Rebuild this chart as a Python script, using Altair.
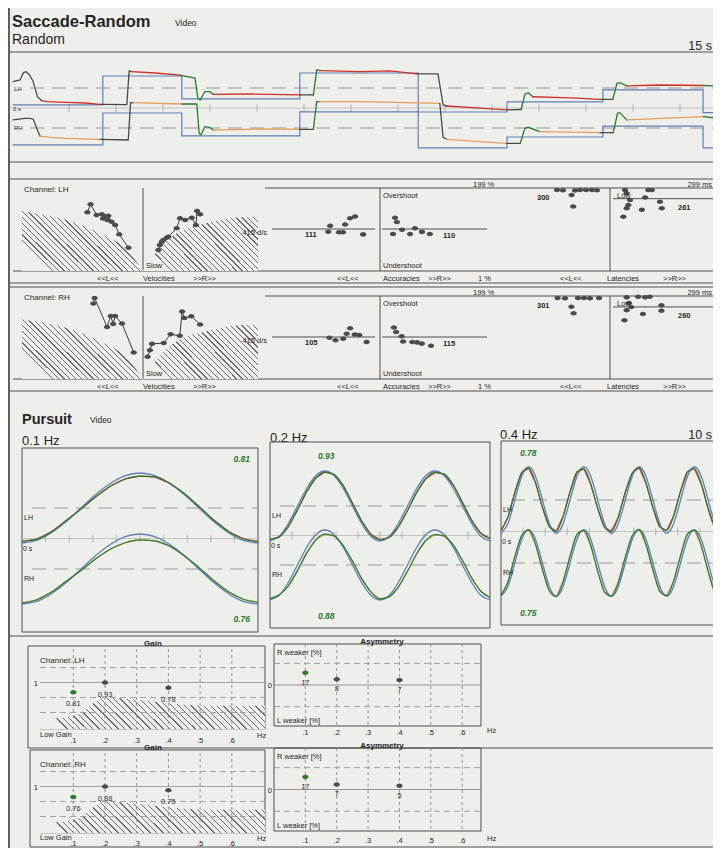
import math
import altair as alt
import pandas as pd

# ====================== DATA ======================
# --- Saccade-Random recording: time [s], horizontal position [deg]
sac_target_t = [-0.2, 1.72, 3.40, 5.91, 8.43, 10.32, 12.36, 14.49, 15.2]
sac_target_lh = [-14, 10, -9, 12.5, -20, -11.5, -1.5, -20.5, -20.5]
sac_target_rh = [-14, 12.5, -6.5, 13.5, -16.5, -7.5, 1.5, -16.5, -16.5]

sac_lh_t = [-0.19, -0.04, 0.03, 0.09, 0.16, 0.23, 0.33, 0.42, 0.53, 0.95, 1.34, 1.66, 2.23, 2.28,
            2.33, 2.83, 3.36, 3.68, 3.74, 3.79, 3.89, 4.0, 4.07, 4.85, 5.91, 6.2, 6.27, 6.34, 7.19,
            7.83, 8.4, 8.85, 8.96, 9.04, 9.74, 10.32, 10.62, 10.7, 10.77, 10.87, 11.66, 12.3, 12.57,
            12.66, 12.72, 12.87, 13.57, 14.49, 14.77, 14.83, 14.96]
sac_lh_deg = [5.3, 6.7, 12.8, 13.6, 10.8, 6.1, -7.3, -10.6, -11.4, -11.9, -12.5, -13.6, -13.8, 14.2,
              13.6, 12.5, 10.8, 8.3, -8.3, -10, -3.1, -3.1, -5.3, -5, -5.8, -5.8, 15, 14.4, 13.6,
              14.2, 11.7, 11.7, -14.2, -15, -16.7, -18.3, -17.9, -5, -3.9, -7.3, -8.3, -9.4, -9.4,
              3.9, 4.4, 1.7, 2.5, 2.1, 1.7, -10, -12]
# k = untracked, r = fixation, g = saccade
sac_lh_kind = list("kkkkkkk" "rrrr" "kkk" "rr" "gggggg" "rr" "k" "gg" "rrr" "kkk" "rr" "k" "ggg"
                   "rr" "k" "ggg" "rr" "gggg")

sac_rh_t = [-0.19, 0.06, 0.17, 0.24, 0.38, 0.6, 0.95, 1.66, 2.26, 2.31, 2.37, 3.4, 3.72, 3.77, 3.81,
            3.89, 3.99, 4.07, 5.06, 5.91, 6.2, 6.27, 6.34, 7.19, 8.89, 8.96, 9.04, 10.31, 10.6, 10.7,
            10.77, 11.02, 12.3, 12.58, 12.67, 12.72, 12.87, 14.5, 14.81, 14.85]
sac_rh_deg = [6.7, 8.1, 8.1, 7.3, -6.7, -7.8, -8.6, -9.4, -10, 21.1, 21.1, 20, 20, -4.4, -5.8, 1.1,
              0.6, -1.7, -0.8, -1.1, -1.1, 21.9, 21.9, 21.9, 20.6, -7.8, -9.4, -12.8, -12.8, -0.3,
              0.6, -3.1, -3.9, -3.9, 12.2, 12.8, 6.7, 9.4, 8.1, -7.3]
# k = untracked, o = fixation, g = saccade
sac_rh_kind = list("kkkk" "ooo" "kkk" "o" "gggggg" "oo" "k" "gg" "oo" "kk" "o" "k" "ggg" "o" "k"
                   "ggg" "o" "ggg")
sac_ticks_s = [1, 2, 3, 4, 5, 6, 7, 8, 9, 10, 11, 12, 13, 14]

# --- Saccade analysis: amplitude [deg]; peak velocity [deg/s]; accuracy [%]; latency [ms]
vel_norm_l_amp = [0, 4.0, 10.7, 18.9, 29.3, 30]
vel_norm_l_v = [0, 152, 273, 369, 429, 432]
vel_norm_r_amp = [0, 3.6, 8.8, 16.6, 23.6, 30]
vel_norm_r_v = [0, 140, 273, 345, 385, 393]

lh_vel_l_amp = [13.8, 13.0, 11.5, 10.2, 9.9, 9.4, 9.1, 8.85, 8.6, 7.8, 6.9, 5.9, 3.6]
lh_vel_l_v = [424, 482, 405, 410, 380, 393, 385, 369, 400, 356, 333, 265, 168]
lh_vel_r_amp = [4.0, 4.4, 4.9, 5.3, 6.2, 6.6, 8.8, 9.65, 11.0, 12.7, 13.8, 14.1, 14.9]
lh_vel_r_v = [152, 188, 212, 224, 241, 248, 309, 381, 369, 385, 333, 434, 410]
rh_vel_l_amp = [12.3, 12.0, 8.9, 8.0, 7.4, 6.9, 5.2, 2.3]
rh_vel_l_v = [546, 586, 376, 456, 398, 456, 401, 192]
rh_vel_r_amp = [1.2, 1.8, 2.35, 5.4, 7.2, 9.6, 10.2, 10.8, 12.6, 14.9]
rh_vel_r_v = [161, 208, 254, 260, 324, 312, 488, 441, 453, 394]

lh_acc_l_amp = [13.5, 13.0, 10.7, 9.65, 9.1, 7.8, 6.5, 4.4]
lh_acc_l = [93.5, 108, 92, 92, 111, 126, 130, 87]
lh_acc_r_amp = [3.55, 4.1, 4.6, 6.0, 8.2, 9.55, 11.45, 13.6]
lh_acc_r = [88, 127, 117, 98, 88, 102, 93, 88]
rh_acc_l_amp = [13.2, 11.6, 9.6, 8.7, 7.8, 6.6, 5.4, 3.5]
rh_acc_l = [98, 92, 96, 108, 121, 106, 105, 88]
rh_acc_r_amp = [3.8, 4.4, 5.9, 6.3, 8.8, 10.1, 11.4, 13.9]
rh_acc_r = [123, 112, 102, 89, 88, 87, 84, 79]

lh_lat_l_amp = [13.25, 11.75, 8.75, 7.5, 6.0, 4.5, 3.25, 9.6, 9.2]
lh_lat_l = [293, 292, 291, 293, 293, 293, 292, 274, 232]
lh_lat_r_amp = [4.05, 4.5, 5.4, 4.5, 4.95, 3.6, 8.6, 9.5, 10.35, 11.3, 13.5, 14.0]
lh_lat_r = [293, 281, 256, 226, 238, 195, 220, 265, 293, 293, 250, 226]
rh_lat_l_amp = [13.1, 11.25, 8.0, 6.5, 5.0, 2.75, 9.65, 9.1]
rh_lat_l = [293, 292, 293, 293, 292, 293, 261, 237]
rh_lat_r_amp = [4.5, 5.1, 5.75, 4.5, 8.9, 7.6, 9.5, 10.75, 3.9, 13.9, 13.9]
rh_lat_r = [295, 274, 260, 248, 234, 297, 295, 297, 211, 266, 246]

lh_means = {"acc_l": 111, "acc_r": 110, "lat_l": 300, "lat_r": 261}
rh_means = {"acc_l": 105, "acc_r": 115, "lat_l": 301, "lat_r": 260}

# --- Pursuit: time [s], position [deg]
p1_t = [0, 0.625, 1.25, 1.875, 2.5, 3.125, 3.75, 4.375, 5, 5.625, 6.25, 6.875, 7.5, 8.125, 8.75,
        9.375, 10]
p1_target = [-20, -18.5, -14.1, -7.7, 0, 7.7, 14.1, 18.5, 20, 18.5, 14.1, 7.7, 0, -7.7, -14.1,
             -18.5, -20]
p1_lh = [-19, -17.8, -13.6, -7.2, -0.6, 6.4, 12.6, 16.6, 18.2, 17.8, 14.2, 8.3, 0.9, -6.9, -13.4,
         -17.6, -19.2]
p1_rh = [-19.5, -17.6, -13.2, -7.0, -0.9, 5.8, 11.4, 15.0, 16.6, 16.1, 13.1, 7.6, 0.8, -6.6,
         -13.0, -17.3, -19.0]

p2_t = [0, 0.417, 0.833, 1.25, 1.667, 2.083, 2.5, 2.917, 3.333, 3.75, 4.167, 4.583, 5, 5.417,
        5.833, 6.25, 6.667, 7.083, 7.5, 7.917, 8.333, 8.75, 9.167, 9.583, 10]
p2_target = [-20, -17.3, -10, 0, 10, 17.3, 20, 17.3, 10, 0, -10, -17.3, -20, -17.3, -10, 0, 10,
             17.3, 20, 17.3, 10, 0, -10, -17.3, -20]
p2_lh = [-19, -17.8, -11.8, -2.2, 8.2, 16.0, 19.4, 18.0, 11.6, 1.6, -8.6, -16.2, -19.2, -18.0,
         -12.0, -2.6, 7.8, 15.6, 19.2, 18.2, 12.0, 2.0, -8.2, -15.6, -18.6]
p2_rh = [-19.2, -17.2, -12.0, -3.2, 6.8, 14.4, 17.6, 16.6, 11.0, 2.2, -7.8, -15.4, -19.4, -18.2,
         -12.6, -3.6, 6.4, 14.0, 17.4, 16.6, 11.4, 2.6, -7.4, -15.0, -18.6]

p3_t = [0, 0.3125, 0.625, 0.9375, 1.25, 1.5625, 1.875, 2.1875, 2.5, 2.8125, 3.125, 3.4375, 3.75,
        4.0625, 4.375, 4.6875, 5, 5.3125, 5.625, 5.9375, 6.25, 6.5625, 6.875, 7.1875, 7.5, 7.8125,
        8.125, 8.4375, 8.75, 9.0625, 9.375, 9.6875, 10]
p3_target = [-19, -13.4, 0, 13.4, 19, 13.4, 0, -13.4, -19, -13.4, 0, 13.4, 19, 13.4, 0, -13.4,
             -19, -13.4, 0, 13.4, 19, 13.4, 0, -13.4, -19, -13.4, 0, 13.4, 19, 13.4, 0, -13.4, -19]
p3_lh = [-17.6, -9.8, 4.2, 15.6, 18.2, 9.8, -4.2, -15.2,
         -17.8, -9.2, 4.8, 16.0, 17.8, 9.0, -4.8, -15.6,
         -18.0, -9.6, 4.4, 15.4, 18.4, 9.6, -4.4, -15.4,
         -17.4, -9.0, 5.0, 16.2, 18.0, 9.2, -5.0, -15.8, -17.6]
p3_rh = [-18.4, -11.0, 3.6, 15.8, 19.0, 10.6, -3.8, -16.0,
         -19.2, -10.4, 4.0, 16.4, 18.6, 10.0, -4.6, -16.6,
         -19.0, -10.8, 3.4, 15.6, 19.2, 10.4, -4.0, -16.2,
         -18.6, -10.2, 4.2, 16.6, 18.8, 9.8, -4.8, -16.8, -18.6]

# --- Pursuit gain / asymmetry summary
freq = [0.1, 0.2, 0.4]
gain_lh = [0.81, 0.93, 0.78]
gain_rh = [0.76, 0.88, 0.75]
gain_lh_dot = [0.87, 1.0, 0.93]     # heights at which the dots are printed
gain_rh_dot = [0.86, 1.0, 0.95]
asym_lh = [17, 8, 7]
asym_rh = [17, 7, 5]
gain_low_f = [-0.007, 0.1, 0.137, 0.163, 0.184, 0.2, 0.3, 0.4, 0.5, 0.6, 0.705]
gain_low_g = [0.512, 0.547, 0.633, 0.725, 0.778, 0.805, 0.769, 0.725, 0.693, 0.69, 0.689]
freq_ticks = [0.1, 0.2, 0.3, 0.4, 0.5, 0.6]
freq_tick_labels = [".1", ".2", ".3", ".4", ".5", ".6"]
gain_grid = [1.2, 1.0, 0.8, 0.6]
asym_grid = [30, -30]

# ====================== STYLE ======================
BG = "#eeeeeb"
INK = "#262626"
BOX = "#4f4f4f"
GRID = "#9a9a9a"
BLUE = "#5f80b6"
RED = "#d1302a"
ORANGE = "#e39f5a"
GREEN = "#2d7a31"
KCOL = "#4a4a4a"
DOT = "#4b4b4b"
HATCH = "#6c6c6c"
FONT = "Liberation Sans, Arial, Helvetica, sans-serif"
OVAL = "M-1,0A1,0.72 0 1,0 1,0A1,0.72 0 1,0 -1,0Z"

L = []
ONE = pd.DataFrame({"k": [0]})


def P(v):
    return v - 8


def sc(d0, d1, p0, p1):
    return alt.Scale(domain=[d0, d1], range=[P(p0), P(p1)], nice=False, zero=False)


def text(s, x, y, size=7.5, bold=False, italic=False, align="left", color=INK, font=FONT):
    L.append(alt.Chart(ONE).mark_text(
        text=s, font=font, fontSize=size, fontWeight="bold" if bold else "normal",
        fontStyle="italic" if italic else "normal", align=align, baseline="alphabetic",
        color=color).encode(x=alt.value(P(x)), y=alt.value(P(y))))


def hline(x0, x1, y, color=BOX, w=1.0, dash=None):
    kw = dict(color=color, strokeWidth=w)
    if dash:
        kw["strokeDash"] = dash
    L.append(alt.Chart(ONE).mark_rule(**kw).encode(
        x=alt.value(P(x0)), x2=alt.value(P(x1)), y=alt.value(P(y))))


def vline(x, y0, y1, color=BOX, w=1.0, dash=None):
    kw = dict(color=color, strokeWidth=w)
    if dash:
        kw["strokeDash"] = dash
    L.append(alt.Chart(ONE).mark_rule(**kw).encode(
        x=alt.value(P(x)), y=alt.value(P(y0)), y2=alt.value(P(y1))))


def rect(x0, y0, x1, y1, color=BOX, w=1.0):
    hline(x0, x1, y0, color, w)
    hline(x0, x1, y1, color, w)
    vline(x0, y0, y1, color, w)
    vline(x1, y0, y1, color, w)


def hatch_fill(w, h, spacing=4.0, lw=0.9):
    if w >= h:
        x1, y1, x2, y2 = 0, h / w, 1, 0
        span = (w + h * h / w) / math.sqrt(2)
    else:
        x1, y1, x2, y2 = 0, 1, w / h, 0
        span = (h + w * w / h) / math.sqrt(2)
    n = max(1, int(span / spacing))
    f = lw / span
    stops = []
    for i in range(n):
        a = i / n
        b = min(a + f, 1.0)
        stops += [{"offset": a, "color": BG}, {"offset": a, "color": HATCH},
                  {"offset": b, "color": HATCH}, {"offset": b, "color": BG}]
    stops.append({"offset": 1, "color": BG})
    return {"gradient": "linear", "x1": x1, "y1": y1, "x2": x2, "y2": y2, "stops": stops}


def line(df, xs, ys, color, interp="linear", w=1.2, xf="t", yf="v"):
    L.append(alt.Chart(df).mark_line(color=color, strokeWidth=w, interpolate=interp).encode(
        x=alt.X(f"{xf}:Q", scale=xs, axis=None), y=alt.Y(f"{yf}:Q", scale=ys, axis=None)))


def area_hatch(xv, yv, base, xs, ys, w, h, spacing=4.0):
    df = pd.DataFrame({"x": xv, "y": yv, "b": [base] * len(xv)})
    L.append(alt.Chart(df).mark_area(fill=hatch_fill(w, h, spacing), interpolate="monotone").encode(
        x=alt.X("x:Q", scale=xs, axis=None), y=alt.Y("y:Q", scale=ys, axis=None), y2="b:Q"))


def dots(xv, yv, xs, ys, size=40, connect=False, color=DOT):
    df = pd.DataFrame({"x": xv, "y": yv, "i": list(range(len(xv)))})
    base = alt.Chart(df).encode(x=alt.X("x:Q", scale=xs, axis=None),
                                y=alt.Y("y:Q", scale=ys, axis=None))
    if connect:
        L.append(base.mark_line(color="#3a3a3a", strokeWidth=1).encode(order="i:Q"))
    L.append(base.mark_point(shape=OVAL, filled=True, size=size, color=color, opacity=1))


def hrule_data(v, ys, x0, x1, color=BOX, w=1.0, dash=None):
    kw = dict(color=color, strokeWidth=w)
    if dash:
        kw["strokeDash"] = dash
    df = pd.DataFrame({"v": [v]})
    L.append(alt.Chart(df).mark_rule(**kw).encode(
        y=alt.Y("v:Q", scale=ys, axis=None), x=alt.value(P(x0)), x2=alt.value(P(x1))))


def vrules_data(xv, xs, y0, y1, color=GRID, w=1.0, dash=None):
    kw = dict(color=color, strokeWidth=w)
    if dash:
        kw["strokeDash"] = dash
    df = pd.DataFrame({"x": xv})
    L.append(alt.Chart(df).mark_rule(**kw).encode(
        x=alt.X("x:Q", scale=xs, axis=None), y=alt.value(P(y0)), y2=alt.value(P(y1))))


def value_label(v, ys, x, dy, s, size=7.5, bold=True, align="left"):
    df = pd.DataFrame({"v": [v], "lab": [s]})
    L.append(alt.Chart(df).mark_text(font=FONT, fontSize=size, fontWeight="bold" if bold else "normal",
                                     align=align, baseline="alphabetic", dy=dy, color=INK).encode(
        x=alt.value(P(x)), y=alt.Y("v:Q", scale=ys, axis=None), text="lab:N"))


def segments(ts, vs, kinds):
    rows = []
    seg = 0
    prev = None
    n = min(len(ts), len(vs))
    for i in range(n - 1):
        k = kinds[i] if i < len(kinds) else kinds[-1]
        if prev is not None and k != prev:
            seg += 1
        rows.append({"t": ts[i], "v": vs[i], "kind": k, "seg": seg, "o": 2 * i})
        rows.append({"t": ts[i + 1], "v": vs[i + 1], "kind": k, "seg": seg, "o": 2 * i + 1})
        prev = k
    return pd.DataFrame(rows)


# ====================== PAGE FRAME + HEADER ======================
vline(9, 8, 848, color="#3d3d3d", w=1.6)
text("Saccade-Random", 12, 27, size=16.5, bold=True)
text("Video", 175, 26, size=8.5)
text("Random", 12, 44, size=14)
text("15 s", 712, 50, size=12.5, align="right")

# ====================== SACCADE TRACES ======================
hline(10, 721, 52, w=1.0)
hline(10, 721, 162, w=1.2)
tx = sc(0, 15, 22, 727)
ty_lh = sc(-20, 20, 112, 64)
ty_rh = sc(-20, 20, 152, 104)
hline(10, 721, 108, color="#b9b9b9", w=0.8)
L.append(alt.Chart(pd.DataFrame({"t": sac_ticks_s})).mark_rule(color="#a8a8a8", strokeWidth=0.8).encode(
    x=alt.X("t:Q", scale=tx, axis=None), y=alt.value(P(104)), y2=alt.value(P(112))))
hline(30, 721, 88, color=GRID, w=1.0, dash=[14, 8])
hline(30, 721, 128, color=GRID, w=1.0, dash=[14, 8])
text("LH", 14, 91, size=6)
text("0 s", 13, 111, size=6)
text("RH", 14, 130, size=6)

kind_scale = alt.Scale(domain=["k", "r", "o", "g"], range=[KCOL, RED, ORANGE, GREEN])
for tgt, ts, vs, ks, ys in [(sac_target_lh, sac_lh_t, sac_lh_deg, sac_lh_kind, ty_lh),
                            (sac_target_rh, sac_rh_t, sac_rh_deg, sac_rh_kind, ty_rh)]:
    line(pd.DataFrame({"t": sac_target_t, "v": tgt}), tx, ys, BLUE, "step-after", 1.2)
    L.append(alt.Chart(segments(ts, vs, ks)).mark_line(strokeWidth=1.3, strokeCap="round").encode(
        x=alt.X("t:Q", scale=tx, axis=None), y=alt.Y("v:Q", scale=ys, axis=None),
        color=alt.Color("kind:N", scale=kind_scale, legend=None),
        detail="seg:N", order="o:Q"))


# ====================== SACCADE ANALYSIS ======================
def analysis(dy, ch, vl, vr, al, ar, ll, lr, means):
    hline(10, 721, 179 + dy)
    hline(265, 721, 188 + dy)
    hline(13, 721, 271 + dy)
    hline(10, 721, 283 + dy)
    for x in (143, 380, 610):
        vline(x, 188 + dy, 271 + dy)
    # velocities
    yv = sc(0, 600, 271 + dy, 188 + dy)
    xvl = sc(30, 0, 22, 143)
    xvr = sc(0, 30, 143, 258)
    area_hatch(vel_norm_l_amp, vel_norm_l_v, 0, xvl, yv, 121, 60)
    area_hatch(vel_norm_r_amp, vel_norm_r_v, 0, xvr, yv, 115, 54)
    dots(vl[0], vl[1], xvl, yv, connect=True)
    dots(vr[0], vr[1], xvr, yv, connect=True)
    # accuracies
    ya = sc(1, 199, 270 + dy, 188 + dy)
    xal = sc(30, 0, 265, 380)
    xar = sc(0, 30, 380, 490)
    hrule_data(100, ya, 272, 375)
    hrule_data(100, ya, 382, 487)
    dots(al[0], al[1], xal, ya)
    dots(ar[0], ar[1], xar, ya)
    value_label(100, ya, 305, 8, str(means["acc_l"]))
    value_label(100, ya, 443, 9, str(means["acc_r"]))
    # latencies
    yl = sc(0, 300, 270 + dy, 188 + dy)
    xll = sc(30, 0, 490, 610)
    xlr = sc(0, 30, 610, 721)
    hrule_data(means["lat_r"], yl, 613, 717)
    dots(ll[0], ll[1], xll, yl)
    dots(lr[0], lr[1], xlr, yl)
    value_label(300, yl, 537, 12, str(means["lat_l"]))
    value_label(means["lat_r"], yl, 678, 11, str(means["lat_r"]))
    # texts
    text("Channel: " + ch, 24, 192 + dy, size=8)
    text("415 d/s", 267, 235 + dy, size=7.5, align="right")
    text("Slow", 146, 268 + dy, size=7.5)
    text("199 %", 473, 187 + dy, size=7.5)
    text("299 ms", 712, 187 + dy, size=7.5, align="right")
    text("Overshoot", 383, 198 + dy, size=7.5)
    text("Undershoot", 383, 268 + dy, size=7.5)
    text("Low", 617, 198 + dy, size=7.5)
    for s, x in [("<<L<<", 97), ("Velocities", 143), (">>R>>", 193), ("<<L<<", 337),
                 ("Accuracies", 383), (">>R>>", 428), ("1 %", 478), ("<<L<<", 560),
                 ("Latencies", 607), (">>R>>", 663)]:
        text(s, x, 281 + dy, size=7.5)


analysis(0, "LH", (lh_vel_l_amp, lh_vel_l_v), (lh_vel_r_amp, lh_vel_r_v),
         (lh_acc_l_amp, lh_acc_l), (lh_acc_r_amp, lh_acc_r),
         (lh_lat_l_amp, lh_lat_l), (lh_lat_r_amp, lh_lat_r), lh_means)
analysis(108, "RH", (rh_vel_l_amp, rh_vel_l_v), (rh_vel_r_amp, rh_vel_r_v),
         (rh_acc_l_amp, rh_acc_l), (rh_acc_r_amp, rh_acc_r),
         (rh_lat_l_amp, rh_lat_l), (rh_lat_r_amp, rh_lat_r), rh_means)

# ====================== PURSUIT ======================
text("Pursuit", 22, 424, size=14.5, bold=True)
text("Video", 90, 423, size=8.5)
text("10 s", 712, 439, size=12.5, align="right")


def pursuit(label, lx, ly, x0, x1, top, bot, lh0, rh0, t, target, eye_lh, eye_rh, g_lh, g_rh,
            gx, galign, gy_top, gy_bot):
    text(label, lx, ly, size=13)
    rect(x0, top, x1, bot)
    xs = sc(0, 10, x0, x1)
    ylh = sc(-20, 20, lh0 + 35, lh0 - 35)
    yrh = sc(-20, 20, rh0 + 35, rh0 - 35)
    mid = (lh0 + rh0) / 2
    hline(x0, x1, mid, color="#b9b9b9", w=0.8)
    vrules_data([1, 2, 3, 4, 5, 6, 7, 8, 9], xs, mid - 4, mid + 4, color="#aaaaaa", w=0.8)
    hline(x0 + 10, x1, lh0, color=GRID, w=1.0, dash=[14, 8])
    hline(x0 + 10, x1, rh0, color=GRID, w=1.0, dash=[14, 8])
    for ys, eye, col in [(ylh, eye_lh, RED), (yrh, eye_rh, ORANGE)]:
        line(pd.DataFrame({"t": t, "v": eye}), xs, ys, col, "linear", 1.2)
        line(pd.DataFrame({"t": t, "v": target}), xs, ys, BLUE, "natural", 1.3)
        line(pd.DataFrame({"t": t, "v": eye}), xs, ys, GREEN, "monotone", 1.2)
    text("LH", x0 + 2, lh0 + 12, size=7)
    text("0 s", x0 + 1, mid + 12, size=7)
    text("RH", x0 + 2, rh0 + 12, size=7)
    text(f"{g_lh:.2f}", gx, gy_top, size=8.5, bold=True, italic=True, align=galign, color=GREEN)
    text(f"{g_rh:.2f}", gx, gy_bot, size=8.5, bold=True, italic=True, align=galign, color=GREEN)


pursuit("0.1 Hz", 22, 445, 22, 258, 448, 632, 508, 569, p1_t, p1_target, p1_lh, p1_rh,
        gain_lh[0], gain_rh[0], 250, "right", 462, 622)
pursuit("0.2 Hz", 270, 442, 270, 490, 442, 628, 506, 565, p2_t, p2_target, p2_lh, p2_rh,
        gain_lh[1], gain_rh[1], 318, "left", 459, 619)
pursuit("0.4 Hz", 500, 439, 501, 722, 441, 625, 500, 563, p3_t, p3_target, p3_lh, p3_rh,
        gain_lh[2], gain_rh[2], 520, "left", 456, 616)
hline(10, 721, 636, w=1.0)


# ====================== GAIN / ASYMMETRY ======================
def gain_panel(ch, top, bot, ftop, fbot, fleft, lab_y, dot_y, gains):
    xs = sc(0, 0.71, 41.6, 266.7)
    ys = sc(0.38, 1.447, bot, top)
    vline(fleft, ftop, fbot)
    hline(fleft, 265, ftop)
    vline(265, ftop, bot)
    hline(fleft, 721, fbot)
    hline(40, 265, bot, color="#8a8a8a", w=0.8)
    area_hatch(gain_low_f, gain_low_g, 0.38, xs, ys, 226, 32, spacing=4.5)
    vrules_data(freq_ticks, xs, top, bot, color="#8c8c8c", w=0.9, dash=[3, 3])
    for g in gain_grid:
        hrule_data(g, ys, 40, 265, color="#9a9a9a", w=0.9, dash=None if g == 1.0 else [6, 4])
    df = pd.DataFrame({"f": freq, "y": dot_y, "lab": [f"{g:.2f}" for g in gains]})
    base = alt.Chart(df).encode(x=alt.X("f:Q", scale=xs, axis=None), y=alt.Y("y:Q", scale=ys, axis=None))
    L.append(base.mark_point(shape=OVAL, filled=True, size=40, opacity=1).encode(
        color=alt.condition(alt.datum.f == 0.1, alt.value(GREEN), alt.value(DOT))))
    L.append(base.mark_text(font=FONT, fontSize=7.5, dy=12, color="#333333").encode(text="lab:N"))
    value_label(1.0, ys, 38, 3, "1", size=7.5, bold=False, align="right")
    tdf = pd.DataFrame({"f": freq_ticks, "lab": freq_tick_labels})
    L.append(alt.Chart(tdf).mark_text(font=FONT, fontSize=7.5, color=INK).encode(
        x=alt.X("f:Q", scale=xs, axis=None), y=alt.value(P(lab_y)), text="lab:N"))
    text("Hz", 257, lab_y - 3, size=7.5)
    text("Low Gain", 40, lab_y - 4, size=7.5)
    text("Channel: " + ch, 40, top + 14, size=8)
    text("Gain", 153, ftop, size=8, bold=True, align="center")


def asym_panel(top, bot, lab_y, vals):
    xs = sc(0, 0.66, 274, 481)
    ys = sc(-57, 57, bot, top)
    rect(274, top, 481, bot)
    vrules_data(freq_ticks, xs, top, bot, color="#8c8c8c", w=0.9, dash=[3, 3])
    hrule_data(0, ys, 274, 481, color="#8a8a8a", w=0.9)
    for g in asym_grid:
        hrule_data(g, ys, 274, 481, color="#9a9a9a", w=0.9, dash=[6, 4])
    df = pd.DataFrame({"f": freq, "y": vals, "lab": [str(v) for v in vals]})
    base = alt.Chart(df).encode(x=alt.X("f:Q", scale=xs, axis=None), y=alt.Y("y:Q", scale=ys, axis=None))
    L.append(base.mark_point(shape=OVAL, filled=True, size=40, opacity=1).encode(
        color=alt.condition(alt.datum.f == 0.1, alt.value(GREEN), alt.value(DOT))))
    L.append(base.mark_text(font=FONT, fontSize=7.5, dy=10, color="#333333").encode(text="lab:N"))
    value_label(0, ys, 272, 3, "0", size=7.5, bold=False, align="right")
    tdf = pd.DataFrame({"f": freq_ticks, "lab": freq_tick_labels})
    L.append(alt.Chart(tdf).mark_text(font=FONT, fontSize=7.5, color=INK).encode(
        x=alt.X("f:Q", scale=xs, axis=None), y=alt.value(P(lab_y)), text="lab:N"))
    text("Hz", 487, lab_y, size=7.5)
    text("R weaker [%]", 277, top + 11, size=7.5)
    text("L weaker [%]", 277, bot - 3, size=7.5)
    text("Asymmetry", 382, top, size=8, bold=True, align="center")


gain_panel("LH", 649, 729, 646, 748, 28, 741, gain_lh_dot, gain_lh)
asym_panel(644, 726, 733, asym_lh)
gain_panel("RH", 753, 833, 750, 847, 30, 844, gain_rh_dot, gain_rh)
asym_panel(748, 831, 841, asym_rh)

chart = alt.layer(*L).resolve_scale(x="independent", y="independent").properties(
    width=705, height=840, background=BG, padding=0,
    autosize=alt.AutoSizeParams(type="none")).configure_view(stroke=None)

chart.save("out.html", embed_options={"renderer": "svg", "actions": False})
